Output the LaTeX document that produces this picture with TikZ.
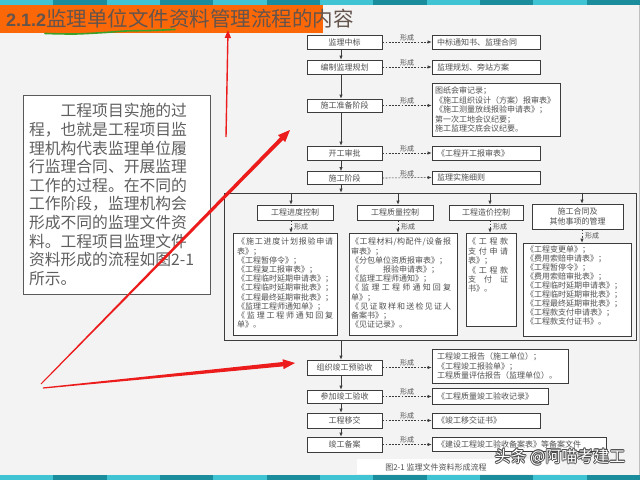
\documentclass[tikz,border=0pt]{standalone}
\usepackage{fontspec}
\setmainfont{Noto Sans CJK SC}
\newfontfamily\latfont{Liberation Sans}
\usetikzlibrary{arrows.meta}
\definecolor{bgc}{RGB}{243,243,243}
\definecolor{tealA}{RGB}{64,196,212}
\definecolor{tealB}{RGB}{26,140,156}
\definecolor{orng}{RGB}{252,104,8}
\definecolor{ttlc}{RGB}{100,84,76}
\definecolor{linec}{RGB}{60,60,60}
\definecolor{txtc}{RGB}{80,80,80}
\definecolor{introc}{RGB}{95,95,95}
\definecolor{redc}{RGB}{236,28,28}
\definecolor{grn}{RGB}{60,160,40}
\def\sprA#1{#1\sprB}
\def\sprB#1{\ifx#1\relax\else\hfil#1\expandafter\sprB\fi}
\newcommand\sprd[2]{\makebox[#1][s]{\sprA#2\relax}}
\tikzset{
 mbox/.style={draw=linec, fill=white, line width=0.6pt, inner sep=0pt, minimum width=75pt, minimum height=14pt, text=txtc, font=\fontsize{8}{9.3}\selectfont},
 dbox/.style={draw=linec, fill=white, line width=0.6pt, inner xsep=5pt, inner ysep=0pt, align=left, text=txtc, font=\fontsize{8}{9.5}\selectfont},
 cbox/.style={draw=linec, fill=white, line width=0.6pt, inner sep=0pt},
 ctext/.style={anchor=north west, inner sep=0pt, align=left, text=txtc, font=\fontsize{8}{9.2}\selectfont},
 flow/.style={draw=linec, line width=0.6pt, -{Latex[length=4pt,width=3.2pt]}},
 form/.style={draw=linec, line width=0.6pt, dash pattern=on 1.8pt off 1.4pt, -{Latex[length=4pt,width=3.2pt]}},
 lbl/.style={font=\fontsize{7}{8}\selectfont, text=txtc, inner sep=0.8pt},
}
\begin{document}
\begin{tikzpicture}[x=1pt,y=-1pt]
\useasboundingbox (0,0) rectangle (640,480);
\fill[bgc] (0,0) rectangle (640,480);
% strips
\foreach \i in {0,...,11}{
  \pgfmathparse{mod(\i,2)==0 ? 1 : 0}
  \ifnum\pgfmathresult=1 \def\sc{tealA}\else\def\sc{tealB}\fi
  \fill[\sc] (\i*53.333,0) rectangle (\i*53.333+53.4,5);
  \fill[\sc] (\i*53.333,475) rectangle (\i*53.333+53.4,480);
}
\draw[black!25, line width=0.6pt] (639.4,5) -- (639.4,475);
% title
\fill[orng] (0,5) rectangle (323,33);
\node[anchor=west, inner sep=0pt, text=ttlc] (ttl) at (6,19)
  {{\latfont\bfseries\fontsize{18}{20}\selectfont 2.1.2}{\fontsize{20.5}{22}\selectfont 监理单位文件资料管理流程的内容}};
\draw[grn, line width=1.6pt, line cap=round] plot[smooth] coordinates {(45,33.5) (75,34) (105,32.5) (125,31) (150,30.5) (175,29.5)};
% intro box
\node[draw=black!65, fill=white, line width=0.8pt, minimum height=199pt, inner xsep=6pt, inner ysep=0pt, text width=175pt, align=left, font=\fontsize{15.8}{18.6}\selectfont, text=introc] (intro) at (116.5,194.5)
 {\hspace*{2em}工程项目实施的过\\
  程，也就是工程项目监\\
  理机构代表监理单位履\\
  行监理合同、开展监理\\
  工作的过程。在不同的\\
  工作阶段，监理机构会\\
  形成不同的监理文件资\\
  料。工程项目监理文件\\
  资料形成的流程如图2-1\\
  所示。};
% main column
\coordinate (ax) at (341,0);
\node[mbox] (m1) at (344.5,42) {监理中标};
\node[mbox] (m2) at (344.5,67) {编制监理规划};
\node[mbox, minimum height=13pt] (m3) at (344.5,105.5) {施工准备阶段};
\node[mbox] (m4) at (344.5,153) {开工审批};
\node[mbox, minimum height=13pt] (m5) at (344.5,178) {施工阶段};
\node[dbox, minimum height=14pt, text width=98pt] (d1) at (486,42) {中标通知书、监理合同};
\node[dbox, minimum height=14pt, text width=98pt] (d2) at (486,67) {监理规划、旁站方案};
\node[dbox, minimum height=53pt, inner xsep=3pt, text width=122pt] (d3) at (496,109.5)
 {图纸会审记录；\\《施工组织设计（方案）报审表》\\《施工测量放线报验申请表》；\\第一次工地会议纪要；\\施工监理交底会议纪要。};
\node[dbox, minimum height=14pt, text width=98pt] (d4) at (486,153) {《工程开工报审表》};
\node[dbox, minimum height=13pt, text width=98pt] (d5) at (486,177.5) {监理实施细则};
\draw[flow] (m1.south -| ax) -- (m2.north -| ax);
\draw[flow] (m2.south -| ax) -- (m3.north -| ax);
\draw[flow] (m3.south -| ax) -- (m4.north -| ax);
\draw[flow] (m4.south -| ax) -- (m5.north -| ax);
\draw[form] (m1.east) -- (d1.west) node[midway, above, lbl] {形成};
\draw[form] (m2.east) -- (d2.west) node[midway, above, lbl] {形成};
\draw[form] (m3.east) -- (m3.east -| d3.west) node[midway, above, lbl] {形成};
\draw[form] (m4.east) -- (d4.west) node[midway, above, lbl] {形成};
\draw[form] (m5.east) -- (d5.west) node[midway, above, lbl] {形成};
% container
\node[cbox, fill=none, minimum width=412pt, minimum height=147pt] (cont) at (430,266.5) {};
\draw[flow] (m5.south -| ax) -- (cont.north -| ax);
\coordinate (k1) at (291,0);
\coordinate (k2) at (398,0);
\coordinate (k3) at (490,0);
\coordinate (k4) at (582,0);
\node[mbox, minimum width=76pt, minimum height=15pt] (c1) at (295,212.5) {工程进度控制};
\node[mbox, minimum width=76pt, minimum height=15pt] (c2) at (395,212.5) {工程质量控制};
\node[mbox, minimum width=74pt, minimum height=15pt] (c3) at (486,212.5) {工程造价控制};
\node[mbox, minimum width=91pt, minimum height=25pt, align=center] (c4) at (577.5,216.5) {施工合同及\\其他事项的管理};
\draw[flow] (cont.north -| k1) -- (c1.north -| k1);
\draw[flow] (cont.north -| k2) -- (c2.north -| k2);
\draw[flow] (cont.north -| k3) -- (c3.north -| k3);
\draw[flow] (cont.north -| k4) -- (c4.north -| k4);
\node[cbox, minimum width=104pt, minimum height=102pt] (e1) at (285,284) {};
\node[cbox, minimum width=108pt, minimum height=102pt] (e2) at (403,284) {};
\node[cbox, minimum width=50pt, minimum height=93pt] (e3) at (491,279.5) {};
\node[cbox, minimum width=108pt, minimum height=93pt] (e4) at (577,289.5) {};
\draw[form] (c1.south -| k1) -- (e1.north -| k1) node[midway, right, lbl, xshift=2pt] {形成};
\draw[form] (c2.south -| k2) -- (e2.north -| k2) node[midway, right, lbl, xshift=2pt] {形成};
\draw[form] (c3.south -| k3) -- (e3.north -| k3) node[midway, right, lbl, xshift=2pt] {形成};
\draw[form] (c4.south -| k4) -- (e4.north -| k4) node[midway, right, lbl, xshift=2pt] {形成};
\node[ctext] (t1) at (237,238)
 {\sprd{96pt}{《施工进度计划报验申请}\\表》；\\《工程暂停令》；\\《工程复工报审表》；\\《工程临时延期申请表》；\\《工程临时延期审批表》；\\《工程最终延期审批表》；\\《监理工程师通知单》；\\\sprd{96pt}{《监理工程师通知回复}\\单》。};
\node[ctext] (t2) at (351,238)
 {\sprd{100pt}{《工程材料/构配件/设备报}\\审表》；\\《分包单位资质报审表》；\\《\hspace*{3em}报验申请表》；\\《监理工程师通知》；\\\sprd{100pt}{《监理工程师通知回复}\\单》；\\\sprd{100pt}{《见证取样和送检见证人}\\备案书》；\\《见证记录》。};
\node[ctext, font=\fontsize{8}{9.4}\selectfont] (t3) at (468,238)
 {\sprd{40pt}{《工程款}\\\sprd{40pt}{支付申请}\\表》；\\\sprd{40pt}{《工程款}\\\sprd{40pt}{支付证}\\书》。};
\node[ctext, font=\fontsize{8}{8.9}\selectfont] (t4) at (526,246)
 {《工程变更单》；\\《费用索赔申请表》；\\《工程暂停令》；\\《费用索赔审批表》；\\《工程临时延期申请表》；\\《工程临时延期审批表》；\\《工程最终延期审批表》；\\《工程款支付申请表》；\\《工程款支付证书》。};
% bottom part
\node[mbox, minimum height=15pt] (b1) at (344.5,367.5) {组织竣工预验收};
\node[mbox, minimum height=13pt] (b2) at (344.5,396.5) {参加竣工验收};
\node[mbox, minimum height=15pt] (b3) at (344.5,420.5) {工程移交};
\node[mbox, minimum height=15pt] (b4) at (344.5,444.5) {竣工备案};
\node[dbox, minimum height=34pt, text width=126pt] (bd1) at (500,366)
 {工程竣工报告（施工单位）；\\《工程竣工报验单》；\\工程质量评估报告（监理单位）。};
\node[dbox, minimum height=16pt, text width=106pt] (bd2) at (490,396) {《工程质量竣工验收记录》};
\node[dbox, minimum height=15pt, text width=98pt] (bd3) at (486,420.5) {《竣工移交证书》};
\node[dbox, minimum height=14pt, text width=164pt] (bd4) at (519,444) {《建设工程竣工验收备案表》等备案文件};
\draw[flow] (cont.south -| ax) -- (b1.north -| ax);
\draw[flow] (b1.south -| ax) -- (b2.north -| ax);
\draw[flow] (b2.south -| ax) -- (b3.north -| ax);
\draw[flow] (b3.south -| ax) -- (b4.north -| ax);
\draw[form] (b1.east) -- (b1.east -| bd1.west) node[midway, above, lbl] {形成};
\draw[form] (b2.east) -- (b2.east -| bd2.west) node[midway, above, lbl] {形成};
\draw[form] (b3.east) -- (b3.east -| bd3.west) node[midway, above, lbl] {形成};
\draw[form] (b4.east) -- (b4.east -| bd4.west) node[midway, above, lbl] {形成};
% caption
\fill[white] (357,459) rectangle (560,474);
\node[inner sep=0pt, text=txtc, font=\fontsize{8}{9}\selectfont] (cap) at (436,467) {图2-1\ 监理文件资料形成流程};
% watermark (white text with dark outline)
\foreach \dx/\dy [count=\n] in {0.8/0,-0.8/0,0/0.8,0/-0.8,0.6/0.6,-0.6/0.6,0.6/-0.6,-0.6/-0.6}{
  \node[inner sep=0pt, text=black!70, font=\fontsize{16}{18}\selectfont] (wm\n) at (560+\dx,457+\dy) {头条 @阿喵考建工};
}
\node[inner sep=0pt, text=white, font=\fontsize{16}{18}\selectfont] (wm) at (560,457) {头条 @阿喵考建工};
% red arrows
\coordinate (ra1) at (226,137);
\coordinate (ra2) at (228,30);
\draw[redc, line width=1.4pt, -{Triangle[length=8pt,width=6pt]}] (ra1) -- (ra2);
\fill[redc] (40.64,383.65) -- (280.2,137.2) -- (278.0,135.1) -- (290,130) -- (285.2,142.1) -- (283.0,140.0) -- (41.36,384.35) -- cycle;
\fill[redc] (42.94,387.4) -- (282.84,361.99) -- (282.57,359.2) -- (295,363) -- (283.55,369.16) -- (283.28,366.37) -- (43.06,388.6) -- cycle;
\end{tikzpicture}
\end{document}
